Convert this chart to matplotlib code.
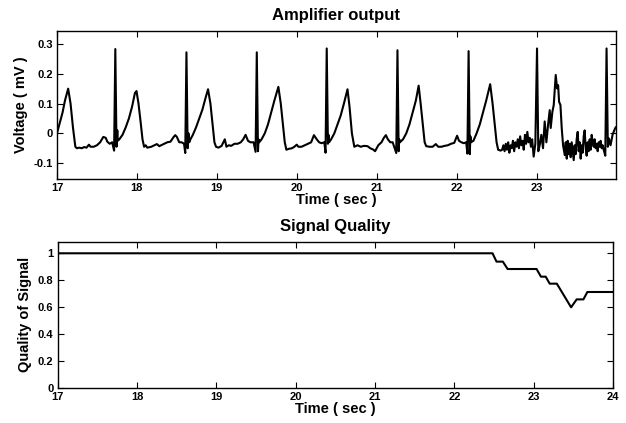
import numpy as np
import matplotlib
matplotlib.use('Agg')
import matplotlib.pyplot as plt
from matplotlib.ticker import FuncFormatter

plt.rcParams['font.family'] = ['Liberation Sans', 'DejaVu Sans']
plt.rcParams['font.weight'] = 'bold'

# amplifier output (time in sec, voltage in mV)
ecg_t = [17.00, 17.03, 17.07, 17.10, 17.14, 17.17, 17.20, 17.23, 17.25, 17.28, 17.31, 17.34,
         17.37, 17.40, 17.42, 17.46, 17.50, 17.54, 17.58, 17.61, 17.63, 17.66, 17.69, 17.715,
         17.73, 17.745, 17.755, 17.76, 17.78, 17.82, 17.86, 17.90, 17.94, 17.975, 17.995, 18.02,
         18.05, 18.07, 18.09, 18.11, 18.13, 18.18, 18.22, 18.25, 18.28, 18.34, 18.38, 18.42,
         18.46, 18.48, 18.50, 18.53, 18.56, 18.59, 18.605, 18.62, 18.635, 18.645, 18.655, 18.67,
         18.70, 18.74, 18.78, 18.82, 18.86, 18.89, 18.92, 18.95, 18.97, 18.99, 19.02, 19.06,
         19.10, 19.12, 19.15, 19.18, 19.22, 19.26, 19.30, 19.33, 19.36, 19.39, 19.42, 19.46,
         19.485, 19.50, 19.515, 19.522, 19.53, 19.56, 19.60, 19.64, 19.68, 19.72, 19.77, 19.80,
         19.83, 19.85, 19.87, 19.90, 19.94, 19.97, 20.00, 20.02, 20.06, 20.10, 20.14, 20.18,
         20.215, 20.25, 20.28, 20.31, 20.345, 20.36, 20.375, 20.39, 20.397, 20.405, 20.43, 20.47,
         20.51, 20.55, 20.59, 20.635, 20.66, 20.69, 20.72, 20.76, 20.80, 20.84, 20.885, 20.92,
         20.96, 20.98, 21.02, 21.06, 21.09, 21.115, 21.14, 21.17, 21.20, 21.245, 21.26, 21.275,
         21.282, 21.29, 21.33, 21.37, 21.41, 21.45, 21.49, 21.525, 21.55, 21.58, 21.60, 21.62,
         21.66, 21.70, 21.74, 21.77, 21.81, 21.85, 21.89, 21.93, 21.97, 22.006, 22.03, 22.06,
         22.09, 22.12, 22.135, 22.15, 22.165, 22.172, 22.18, 22.21, 22.25, 22.29, 22.33, 22.37,
         22.42, 22.45, 22.48, 22.50, 22.52, 22.55, 22.57, 22.585, 22.60, 22.615, 22.63, 22.645,
         22.66, 22.675, 22.69, 22.705, 22.72, 22.735, 22.75, 22.765, 22.78, 22.795, 22.81, 22.825,
         22.84, 22.855, 22.87, 22.885, 22.90, 22.915, 22.93, 22.945, 22.964, 22.985, 23.006, 23.022,
         23.039, 23.060, 23.081, 23.102, 23.123, 23.144, 23.165, 23.177, 23.198, 23.215, 23.240, 23.257,
         23.270, 23.282, 23.299, 23.315, 23.332, 23.353, 23.365, 23.378, 23.390, 23.402, 23.415, 23.427,
         23.440, 23.452, 23.465, 23.477, 23.490, 23.502, 23.515, 23.527, 23.540, 23.552, 23.565, 23.577,
         23.590, 23.602, 23.615, 23.627, 23.640, 23.652, 23.665, 23.677, 23.690, 23.702, 23.715, 23.727,
         23.740, 23.752, 23.765, 23.777, 23.790, 23.802, 23.815, 23.827, 23.840, 23.860, 23.876, 23.892,
         23.905, 23.926, 23.951, 23.975, 23.990]
ecg_v = [0.000, 0.030, 0.070, 0.110, 0.150, 0.100, 0.020, -0.045, -0.050, -0.048, -0.050, -0.046,
         -0.048, -0.038, -0.045, -0.045, -0.040, -0.030, -0.012, -0.015, -0.028, -0.035, -0.030, -0.058,
         0.283, -0.045, 0.010, -0.025, -0.020, -0.005, 0.020, 0.050, 0.090, 0.135, 0.142, 0.100,
         0.030, -0.020, -0.045, -0.040, -0.048, -0.045, -0.040, -0.036, -0.043, -0.035, -0.030, -0.028,
         -0.012, -0.006, -0.012, -0.030, -0.030, -0.035, -0.066, 0.272, -0.050, 0.000, -0.030, -0.020,
         -0.005, 0.020, 0.050, 0.080, 0.120, 0.148, 0.100, 0.020, -0.030, -0.045, -0.048, -0.042,
         -0.020, -0.045, -0.040, -0.042, -0.035, -0.035, -0.030, -0.020, -0.005, -0.025, -0.030, -0.030,
         -0.062, 0.272, -0.060, -0.020, -0.030, -0.020, 0.000, 0.030, 0.070, 0.110, 0.156, 0.100,
         0.020, -0.030, -0.055, -0.052, -0.050, -0.045, -0.038, -0.045, -0.045, -0.040, -0.035, -0.030,
         -0.006, -0.020, -0.030, -0.033, -0.030, -0.065, 0.285, -0.035, -0.005, -0.030, -0.020, 0.000,
         0.030, 0.060, 0.100, 0.148, 0.090, 0.000, -0.045, -0.040, -0.045, -0.042, -0.043, -0.050,
         -0.055, -0.060, -0.040, -0.030, -0.015, -0.006, -0.020, -0.030, -0.030, -0.066, 0.279, -0.060,
         -0.020, -0.030, -0.020, 0.000, 0.030, 0.070, 0.110, 0.160, 0.100, 0.020, -0.030, -0.043,
         -0.045, -0.045, -0.036, -0.045, -0.045, -0.042, -0.040, -0.035, -0.032, -0.008, -0.025, -0.030,
         -0.033, -0.030, -0.068, 0.276, -0.070, -0.010, -0.030, -0.025, 0.000, 0.030, 0.070, 0.110,
         0.165, 0.100, 0.020, -0.030, -0.055, -0.058, -0.055, -0.040, -0.060, -0.035, -0.055, -0.030,
         -0.065, -0.040, -0.050, -0.025, -0.060, -0.030, -0.045, -0.020, -0.050, -0.010, -0.040, -0.025,
         -0.055, -0.005, -0.035, 0.005, -0.030, -0.015, -0.045, -0.020, -0.078, -0.035, 0.285, -0.060,
         -0.040, -0.005, -0.050, 0.040, -0.030, 0.028, 0.078, 0.018, 0.072, 0.095, 0.196, 0.151,
         0.162, 0.106, 0.095, 0.018, -0.040, -0.073, -0.030, -0.085, -0.025, -0.070, -0.035, -0.080,
         -0.030, -0.060, -0.090, -0.040, -0.070, -0.020, 0.005, -0.060, -0.030, -0.085, -0.040, -0.065,
         -0.010, 0.010, -0.050, -0.075, -0.030, -0.060, -0.020, -0.055, -0.005, -0.030, -0.045, -0.020,
         -0.050, -0.035, -0.060, -0.030, -0.045, -0.025, -0.050, -0.040, -0.055, -0.075, 0.285, -0.045,
         -0.017, -0.040, -0.005, 0.012, 0.020]

# signal quality
q_t = [17.0, 22.48, 22.53, 22.61, 22.67, 23.035, 23.09, 23.15, 23.20, 23.29, 23.47, 23.54, 23.625, 23.675, 24.0]
q_v = [1.0, 1.0, 0.938, 0.938, 0.883, 0.883, 0.826, 0.826, 0.774, 0.774, 0.598, 0.657, 0.657, 0.712, 0.712]

fmt = FuncFormatter(lambda v, p: '%g' % round(v, 2))

fig = plt.figure(figsize=(6.26, 4.23), dpi=100)
ax1 = fig.add_axes([0.091, 0.577, 0.8925, 0.35])
ax2 = fig.add_axes([0.092, 0.0835, 0.8875, 0.3444])

ax1.plot(ecg_t, ecg_v, color='black', lw=1.5)
ax1.set_xlim(17, 23.99)
ax1.set_ylim(-0.153, 0.344)
ax1.set_xticks([17, 18, 19, 20, 21, 22, 23])
ax1.set_yticks([-0.1, 0, 0.1, 0.2, 0.3])
ax1.set_title('Amplifier output', fontsize=12, fontweight='bold', pad=8)
ax1.set_xlabel('Time ( sec )', fontsize=10.5, fontweight='bold', labelpad=0)
ax1.set_ylabel('Voltage ( mV )', fontsize=10.5, fontweight='bold', labelpad=4)

ax2.plot(q_t, q_v, color='black', lw=1.5)
ax2.set_xlim(17, 24)
ax2.set_ylim(0, 1.084)
ax2.set_xticks([17, 18, 19, 20, 21, 22, 23, 24])
ax2.set_yticks([0, 0.2, 0.4, 0.6, 0.8, 1])
ax2.set_title('Signal Quality', fontsize=12, fontweight='bold', pad=8)
ax2.set_xlabel('Time ( sec )', fontsize=10.5, fontweight='bold', labelpad=0)
ax2.set_ylabel('Quality of Signal', fontsize=10.5, fontweight='bold', labelpad=4)

for ax in (ax1, ax2):
    ax.yaxis.set_major_formatter(fmt)
    ax.tick_params(direction='in', length=4, width=0.8, top=True, right=True,
                   labelsize=8, pad=3)
    for lab in ax.get_xticklabels() + ax.get_yticklabels():
        lab.set_fontweight('bold')
    for s in ax.spines.values():
        s.set_linewidth(1.0)

fig.savefig('out.png', dpi=100)
